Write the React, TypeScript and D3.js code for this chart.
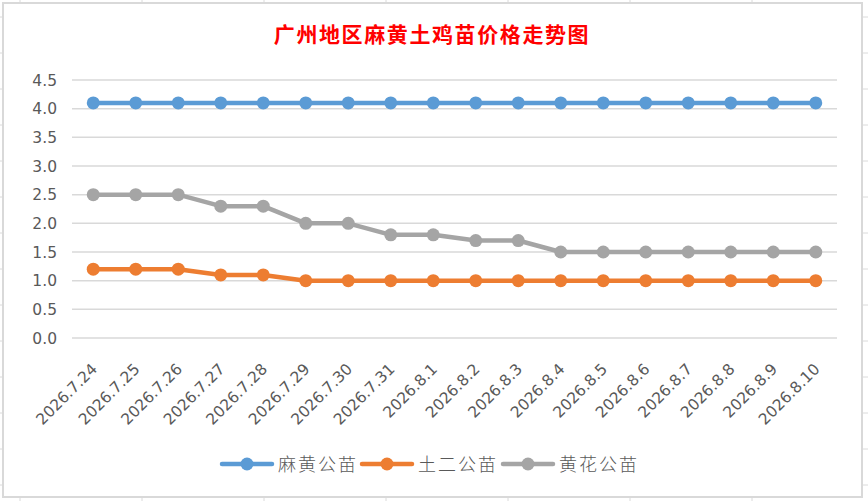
import React, { useEffect, useRef } from "react";
import * as d3 from "d3";

const dates = [
  "2026.7.24", "2026.7.25", "2026.7.26", "2026.7.27", "2026.7.28", "2026.7.29",
  "2026.7.30", "2026.7.31", "2026.8.1", "2026.8.2", "2026.8.3", "2026.8.4",
  "2026.8.5", "2026.8.6", "2026.8.7", "2026.8.8", "2026.8.9", "2026.8.10",
];
const mahuang = [4.1, 4.1, 4.1, 4.1, 4.1, 4.1, 4.1, 4.1, 4.1, 4.1, 4.1, 4.1, 4.1, 4.1, 4.1, 4.1, 4.1, 4.1];
const tuer = [1.2, 1.2, 1.2, 1.1, 1.1, 1.0, 1.0, 1.0, 1.0, 1.0, 1.0, 1.0, 1.0, 1.0, 1.0, 1.0, 1.0, 1.0];
const huanghua = [2.5, 2.5, 2.5, 2.3, 2.3, 2.0, 2.0, 1.8, 1.8, 1.7, 1.7, 1.5, 1.5, 1.5, 1.5, 1.5, 1.5, 1.5];
const yTicks = [0, 0.5, 1, 1.5, 2, 2.5, 3, 3.5, 4, 4.5];

const series = [
  { name: "麻黄公苗", values: mahuang, color: "#5B9BD5" },
  { name: "土二公苗", values: tuer, color: "#ED7D31" },
  { name: "黄花公苗", values: huanghua, color: "#A5A5A5" },
];

const W = 868;
const H = 501;

const App: React.FC = () => {
  const ref = useRef<SVGSVGElement | null>(null);

  useEffect(() => {
    const svg = d3.select(ref.current);
    svg.selectAll("*").remove();

    // spreadsheet grid behind the chart
    const sheet = svg.append("g");
    d3.range(17, H, 36).forEach((y) =>
      sheet.append("line").attr("x1", 0).attr("x2", W).attr("y1", y).attr("y2", y)
        .attr("stroke", "#dadada").attr("stroke-width", 1)
    );
    d3.range(20, W, 122).forEach((x) =>
      sheet.append("line").attr("x1", x).attr("x2", x).attr("y1", 0).attr("y2", H)
        .attr("stroke", "#dadada").attr("stroke-width", 1)
    );

    svg.append("rect")
      .attr("x", 3).attr("y", 3).attr("width", 859).attr("height", 494)
      .attr("fill", "#fff").attr("stroke", "#d9d9d9").attr("stroke-width", 2);

    svg.append("text")
      .attr("x", 432).attr("y", 42)
      .attr("text-anchor", "middle")
      .attr("fill", "#FF0000")
      .attr("font-family", "'Noto Sans CJK SC', sans-serif")
      .attr("font-weight", 700)
      .attr("font-size", 21)
      .attr("letter-spacing", 1.6)
      .text("广州地区麻黄土鸡苗价格走势图");

    const left = 72, right = 837, top = 80, bottom = 338;

    const x = d3.scaleBand().domain(dates).range([left, right]);
    const y = d3.scaleLinear().domain([0, 4.5]).range([bottom, top]);
    const cx = (d: string) => (x(d) ?? 0) + x.bandwidth() / 2;

    const grid = svg.append("g");
    yTicks.forEach((t) => {
      grid.append("line")
        .attr("x1", left).attr("x2", right)
        .attr("y1", y(t)).attr("y2", y(t))
        .attr("stroke", "#d9d9d9").attr("stroke-width", 1.5);
      grid.append("text")
        .attr("x", 57).attr("y", y(t) + 5.5)
        .attr("text-anchor", "end")
        .attr("fill", "#595959")
        .attr("font-family", "'DejaVu Sans', sans-serif")
        .attr("font-size", 15.5)
        .text(d3.format(".1f")(t));
    });

    const xl = svg.append("g");
    dates.forEach((d) => {
      xl.append("text")
        .attr("transform", `translate(${cx(d) + 5},370) rotate(-45)`)
        .attr("text-anchor", "end")
        .attr("fill", "#595959")
        .attr("font-family", "'DejaVu Sans', sans-serif")
        .attr("font-size", 15.5)
        .text(d);
    });

    const line = d3.line<number>()
      .x((_, i) => cx(dates[i]))
      .y((v) => y(v));

    series.forEach((s) => {
      const g = svg.append("g");
      g.append("path")
        .attr("d", line(s.values) ?? "")
        .attr("fill", "none")
        .attr("stroke", s.color)
        .attr("stroke-width", 4.5)
        .attr("stroke-linejoin", "round");
      g.selectAll("circle")
        .data(s.values)
        .enter()
        .append("circle")
        .attr("cx", (_, i) => cx(dates[i]))
        .attr("cy", (v) => y(v))
        .attr("r", 6.5)
        .attr("fill", s.color);
    });

    // legend
    const legendX = [222, 362, 503];
    series.forEach((s, i) => {
      const g = svg.append("g").attr("transform", `translate(${legendX[i]},464)`);
      g.append("line")
        .attr("x1", 0).attr("x2", 50).attr("y1", 0).attr("y2", 0)
        .attr("stroke", s.color).attr("stroke-width", 4.5).attr("stroke-linecap", "round");
      g.append("circle").attr("cx", 25).attr("cy", 0).attr("r", 6.5).attr("fill", s.color);
      g.append("text")
        .attr("x", 56).attr("y", 7)
        .attr("fill", "#595959")
        .attr("font-family", "'Noto Sans CJK SC', sans-serif")
        .attr("font-weight", 300)
        .attr("font-size", 18)
        .attr("letter-spacing", 2)
        .text(s.name);
    });
  }, []);

  return (
    <svg
      ref={ref}
      width={W}
      height={H}
      style={{ position: "absolute", left: 0, top: 0, background: "#fff" }}
    ></svg>
  );
};

export default App;
